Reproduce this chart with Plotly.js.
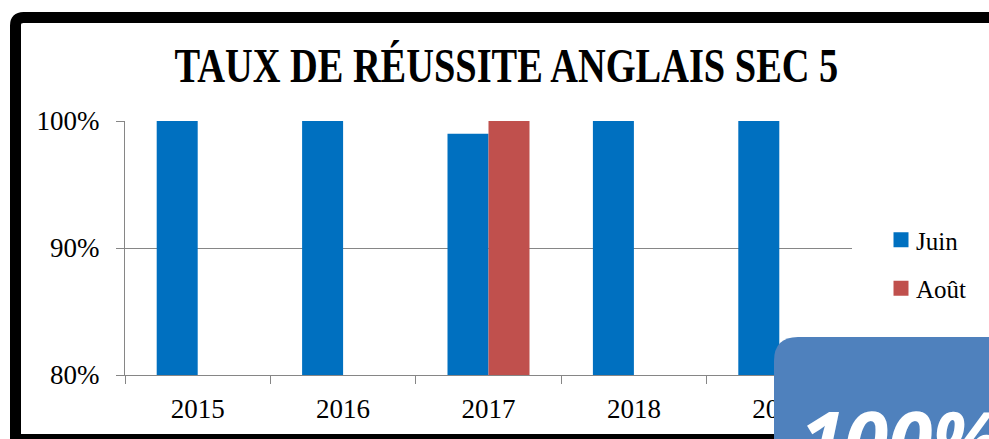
<!DOCTYPE html>
<html>
<head>
<meta charset="utf-8">
<script src="https://cdn.plot.ly/plotly-3.0.1.min.js"></script>
<style>
html,body{margin:0;padding:0;background:#fff;}
#chart{width:989px;height:439px;}
</style>
</head>
<body>
<div id="chart"></div>
<script>
// ---- data ----
const years = ["2015", "2016", "2017", "2018", "2019"];
const juin = [1.00, 1.00, 0.99, 1.00, 1.00];
const aout = [null, null, 1.00, null, null];
const seriesNames = ["Juin", "Août"];
const chartTitle = "TAUX DE RÉUSSITE ANGLAIS SEC 5";
const badgeText = "100%";

// ---- layout helpers (pixel -> paper) ----
const W = 989, H = 439;
const M = {l: 125, r: 137, t: 121, b: 64};
const PW = W - M.l - M.r, PH = H - M.t - M.b;
const px = x => (x - M.l) / PW;
const py = y => (H - M.b - y) / PH;
function roundRectPath(x0, y0, x1, y1, r) {
  return `M${px(x0)},${py(y0 + r)} Q${px(x0)},${py(y0)} ${px(x0 + r)},${py(y0)} ` +
         `L${px(x1)},${py(y0)} L${px(x1)},${py(y1)} L${px(x0)},${py(y1)} Z`;
}

const serif = "Liberation Serif, DejaVu Serif, serif";

const traces = [
  {type: "bar", name: seriesNames[0], x: years, y: juin,
   marker: {color: "#0070C0"}, legendgroup: "a"},
  {type: "bar", name: seriesNames[1], x: years, y: aout,
   marker: {color: "#C0504D"}, legendgroup: "b"}
];

const layout = {
  width: W, height: H,
  margin: M,
  paper_bgcolor: "#ffffff",
  plot_bgcolor: "#ffffff",
  barmode: "group",
  bargap: 0.436,
  bargroupgap: 0,
  title: {
    text: "<b>" + chartTitle + "</b>",
    font: {family: serif, size: 48, color: "#000"},
    xref: "container", x: 0.512, xanchor: "center",
    yref: "container", y: 1 - 65 / H, yanchor: "middle"
  },
  xaxis: {
    type: "category",
    showline: true, linecolor: "#868686", linewidth: 1,
    ticks: "outside", tickson: "boundaries", ticklen: 8, tickcolor: "#868686",
    tickfont: {family: serif, size: 27, color: "#000"},
    ticklabelstandoff: 10,
    showgrid: false, fixedrange: true
  },
  yaxis: {
    range: [0.8, 1.0], dtick: 0.1, tickformat: ".0%",
    showline: true, linecolor: "#868686", linewidth: 1,
    ticks: "outside", ticklen: 8, tickcolor: "#868686",
    gridcolor: "#868686", gridwidth: 1,
    tickfont: {family: serif, size: 27, color: "#000"},
    ticklabelstandoff: 11,
    zeroline: false, fixedrange: true
  },
  legend: {
    x: px(876), xanchor: "left", y: py(217), yanchor: "top",
    font: {family: serif, size: 25, color: "#000"},
    tracegroupgap: 13, bgcolor: "rgba(0,0,0,0)"
  },
  shapes: [
    {type: "path", xref: "paper", yref: "paper", layer: "above",
     path: roundRectPath(15.5, 17.5, 1010, 439.5, 8),
     line: {color: "#000", width: 11}, fillcolor: "rgba(0,0,0,0)"},
    {type: "path", xref: "paper", yref: "paper", layer: "above",
     path: roundRectPath(774, 337, 1010, 460, 24),
     line: {width: 0}, fillcolor: "#4F81BD"}
  ],
  annotations: [
    {text: "<b><i>" + badgeText + "</i></b>", xref: "paper", yref: "paper",
     x: px(798), xanchor: "left", y: py(382), yanchor: "top", showarrow: false,
     font: {family: "Open Sans, Liberation Sans, sans-serif", size: 80, color: "#fff"}}
  ]
};

Plotly.newPlot("chart", traces, layout, {displayModeBar: false, staticPlot: true}).then(gd => {
  // condense the title horizontally, as in the reference typeface
  const t = gd.querySelector(".gtitle");
  if (t) {
    const cx = parseFloat(t.getAttribute("x"));
    t.setAttribute("transform", `translate(${cx},0) scale(0.8,1) translate(${-cx},0)`);
  }
  // enlarge the legend swatches slightly and bring them nearer the labels
  gd.querySelectorAll(".legendpoints path").forEach(p => {
    const tr = p.getAttribute("transform") || "";
    p.setAttribute("transform", tr + " translate(5,0) scale(1.25)");
  });
});
</script>
</body>
</html>
